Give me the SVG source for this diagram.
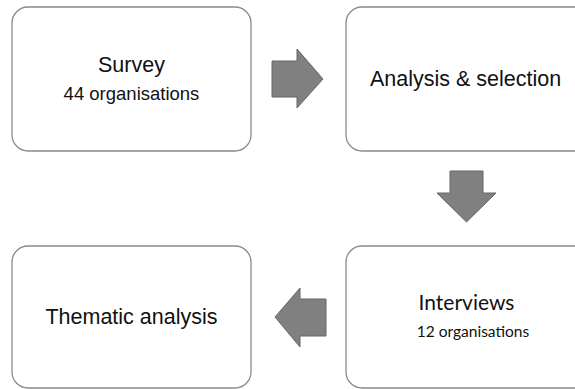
<svg xmlns="http://www.w3.org/2000/svg" width="575" height="389" viewBox="0 0 575 389">
<style>
.box{fill:#fff;stroke:#8a8a8a;stroke-width:1.3}
.arr{fill:#808080;stroke:#666;stroke-width:1}
.t{font-family:"Liberation Sans",Arial,sans-serif;fill:#111;text-anchor:middle}
.c{font-family:Lato,"Open Sans",sans-serif;fill:#111;text-anchor:middle}
</style>
<rect width="575" height="389" fill="#fff"/>
<g id="survey">
<rect class="box" x="12" y="7" width="239" height="144" rx="16"/>
<text class="t" x="131.5" y="72" font-size="21.5">Survey</text>
<text class="t" x="131.5" y="100" font-size="18.5">44 organisations</text>
</g>
<g id="analysis">
<rect class="box" x="346" y="7" width="250" height="144" rx="16"/>
<text class="t" x="465.5" y="86" font-size="21.5">Analysis &amp; selection</text>
</g>
<g id="interviews">
<rect class="box" x="346" y="246" width="250" height="142" rx="16"/>
<text class="c" x="466.5" y="310" font-size="21">Interviews</text>
<text class="c" x="473" y="337" font-size="15.5">12 organisations</text>
</g>
<g id="thematic">
<rect class="box" x="12" y="246" width="239" height="142" rx="16"/>
<text class="t" x="131.5" y="324" font-size="21.5">Thematic analysis</text>
</g>
<g id="connectors">
<polygon class="arr" points="272,61 297,61 297,49 323,79 297,108 297,97 272,97"/>
<polygon class="arr" points="450,171 483,171 483,193 496,193 466.5,222 437,193 450,193"/>
<polygon class="arr" points="326,299 300,299 300,288 275,317 300,347 300,336 326,336"/>
</g>
</svg>
